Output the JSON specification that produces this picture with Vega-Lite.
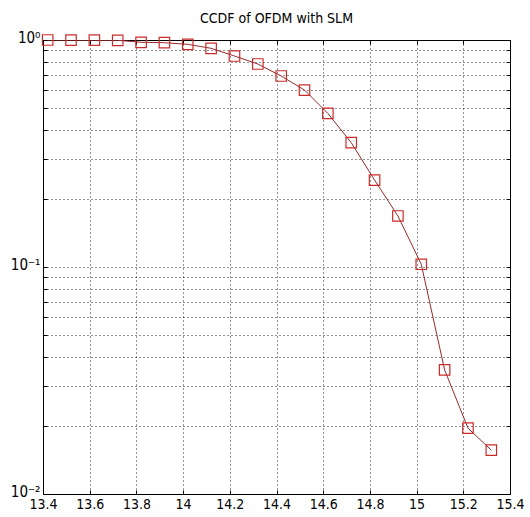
{
  "$schema": "https://vega.github.io/schema/vega-lite/v6.json",
  "width": 467,
  "height": 454,
  "autosize": {"type": "none"},
  "padding": {"left": 43, "top": 40, "right": 20, "bottom": 23},
  "background": "white",
  "title": {"text": "CCDF of OFDM with SLM", "font": "Liberation Sans Narrow, DejaVu Sans Condensed", "fontSize": 14, "fontWeight": "normal", "color": "#000", "offset": 4, "anchor": "middle"},
  "config": {
    "view": {"stroke": "black", "strokeWidth": 1},
    "axis": {
      "domainColor": "#000",
      "tickColor": "#000",
      "labelColor": "#000",
      "labelFont": "Liberation Sans Narrow, DejaVu Sans Condensed",
      "labelFontSize": 14,
      "labelFlush": false,
      "labelOverlap": false,
      "labelBound": false,
      "gridColor": "#000",
      "gridDash": [1, 3],
      "gridOpacity": 0.85,
      "gridWidth": 1,
      "tickSize": -4,
      "labelPadding": 8
    }
  },
  "data": {"values": [
    {"x": 13.42, "p": 1.0},
    {"x": 13.52, "p": 0.999},
    {"x": 13.62, "p": 0.998},
    {"x": 13.72, "p": 0.997},
    {"x": 13.82, "p": 0.977},
    {"x": 13.92, "p": 0.973},
    {"x": 14.02, "p": 0.957},
    {"x": 14.12, "p": 0.919},
    {"x": 14.22, "p": 0.85},
    {"x": 14.32, "p": 0.784},
    {"x": 14.42, "p": 0.694},
    {"x": 14.52, "p": 0.602},
    {"x": 14.62, "p": 0.475},
    {"x": 14.72, "p": 0.353},
    {"x": 14.82, "p": 0.2416},
    {"x": 14.92, "p": 0.1678},
    {"x": 15.02, "p": 0.1028},
    {"x": 15.12, "p": 0.0352},
    {"x": 15.22, "p": 0.0195},
    {"x": 15.32, "p": 0.0156}
  ]},
  "layer": [
    {
      "mark": {"type": "line", "color": "#9a2b2b", "strokeWidth": 1, "clip": true},
      "encoding": {
        "x": {"field": "x", "type": "quantitative", "scale": {"domain": [13.4, 15.4], "nice": false, "zero": false},
              "axis": {"orient": "bottom", "title": null, "values": [13.4, 13.6, 13.8, 14, 14.2, 14.4, 14.6, 14.8, 15, 15.2, 15.4], "format": ".1~f", "grid": true, "labelPadding": 7}},
        "y": {"field": "p", "type": "quantitative", "scale": {"type": "log", "domain": [0.01, 1], "nice": false},
              "axis": {"orient": "left", "title": null, "grid": true, "labelFontSize": 15, "labelOffset": -3,
                       "values": [0.01, 0.02, 0.03, 0.04, 0.05, 0.06, 0.07, 0.08, 0.09, 0.1, 0.2, 0.3, 0.4, 0.5, 0.6, 0.7, 0.8, 0.9, 1],
                       "labelExpr": "datum.value == 1 ? '10⁰' : datum.value == 0.1 ? '10⁻¹' : datum.value == 0.01 ? '10⁻²' : ''",
                       "labelPadding": 7}}
      }
    },
    {
      "mark": {"type": "point", "shape": "square", "filled": false, "size": 110, "color": "#cc2b2b", "strokeWidth": 1.2, "opacity": 1},
      "encoding": {
        "x": {"field": "x", "type": "quantitative", "axis": null},
        "y": {"field": "p", "type": "quantitative", "axis": null}
      }
    },
    {
      "mark": {"type": "point", "opacity": 0},
      "encoding": {
        "x": {"field": "x", "type": "quantitative",
              "axis": {"orient": "top", "title": null, "labels": false, "grid": false, "domain": false, "values": [13.4, 13.6, 13.8, 14, 14.2, 14.4, 14.6, 14.8, 15, 15.2, 15.4]}},
        "y": {"field": "p", "type": "quantitative",
              "axis": {"orient": "right", "title": null, "labels": false, "grid": false, "domain": false,
                       "values": [0.01, 0.02, 0.03, 0.04, 0.05, 0.06, 0.07, 0.08, 0.09, 0.1, 0.2, 0.3, 0.4, 0.5, 0.6, 0.7, 0.8, 0.9, 1]}}
      }
    }
  ],
  "resolve": {"axis": {"x": "independent", "y": "independent"}}
}
